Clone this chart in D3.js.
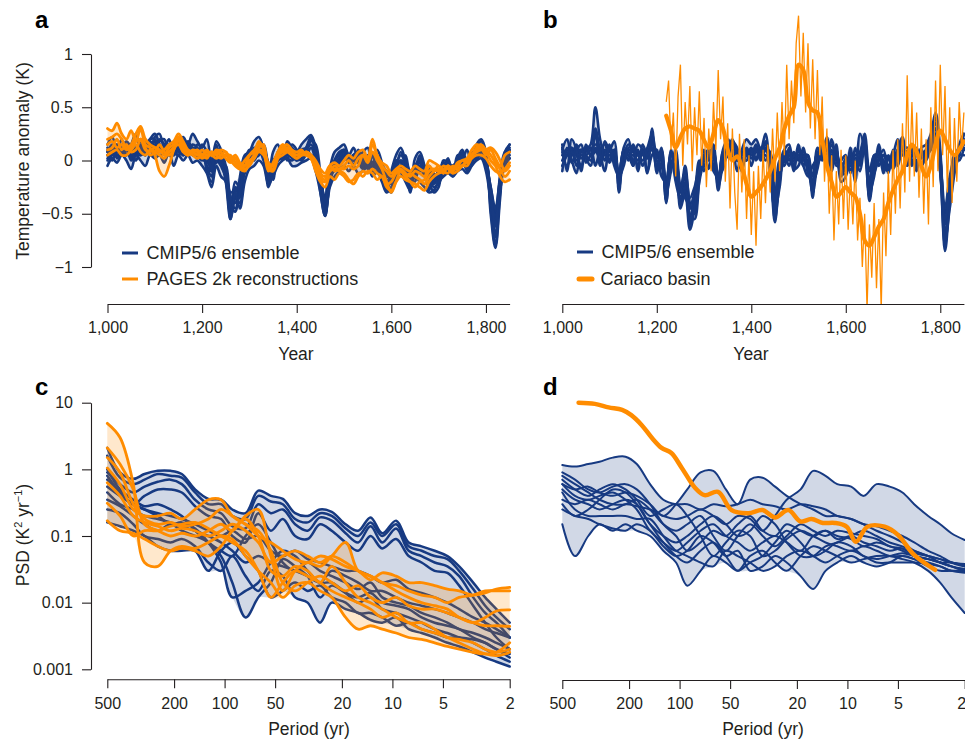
<!DOCTYPE html>
<html><head><meta charset="utf-8">
<script src="https://cdn.jsdelivr.net/npm/d3@7"></script>
<style>
body{margin:0;background:#fff;}
svg{display:block;}
</style></head><body>
<svg id="chart" width="965" height="741"></svg>
<script>
// ---------------- DATA ----------------
const yearTicks = [1000, 1200, 1400, 1600, 1800];
const tempTicks = [-1, -0.5, 0, 0.5, 1];
const psdTicks = [0.001, 0.01, 0.1, 1, 10];
const psdTickLabels = ["0.001", "0.01", "0.1", "1", "10"];
const periodTicks = [500, 200, 100, 50, 20, 10, 5, 2];

const yearsA = [1000,1010,1020,1030,1040,1050,1060,1070,1080,1090,1100,1110,1120,1130,1140,1150,1160,1170,1180,1190,
1200,1210,1220,1230,1240,1250,1260,1270,1280,1290,1300,1310,1320,1330,1340,1350,1360,1370,1380,1390,
1400,1410,1420,1430,1440,1450,1460,1470,1480,1490,1500,1510,1520,1530,1540,1550,1560,1570,1580,1590,
1600,1610,1620,1630,1640,1650,1660,1670,1680,1690,1700,1710,1720,1730,1740,1750,1760,1770,1780,1790,
1800,1810,1820,1830,1840,1850];

// Panel a: CMIP5/6 ensemble members (K)
const cmipA1 = [.05,.1,.15,.05,.12,0,.08,.18,.12,.2, .25,.15,.05,.15,.1,.05,.2,.12,.05,.15, .1,-.05,-.15,.1,.05,-.15,-.5,-.35,-.3,-.05, .05,.1,.15,.02,-.2,-.05,.05,.1,.15,.08, 0,.1,.12,.2,.1,-.25,-.5,-.2,0,.05, .1,.02,.05,.08,-.05,.05,-.1,0,-.12,-.2, -.28,-.05,.05,-.02,-.2,-.05,0,-.12,-.15,-.25, -.2,0,-.02,-.1,0,.05,-.05,.02,.1,.15, .02,-.4,-.7,-.25,.05,.12];
const cmipA2 = [.1,.02,.08,.12,.15,.08,.05,.1,.05,.1, .12,.2,.15,.1,.05,.12,.08,.05,.1,.05, 0,.05,-.05,-.02,0,-.08,-.45,-.25,-.35,-.1, -.02,.02,.05,.1,-.05,-.1,0,.02,.05,.1, .05,0,.05,.05,0,-.15,-.45,-.1,-.1,-.05, 0,.05,0,-.02,-.08,.02,-.02,-.05,-.15,-.1, -.15,-.1,-.05,-.1,-.15,-.12,-.1,-.05,-.1,-.2, -.1,-.1,-.05,-.05,-.05,-.02,-.08,0,.02,.05, -.05,-.25,-.5,-.15,0,.02];
const cmipA3 = [.12,.08,.05,.1,.1,.02,.12,.08,.05,.18, .1,.05,.08,.15,.05,.1,.05,.12,.08,.05, .08,-.05,-.1,.02,-.05,-.05,-.35,-.4,-.2,-.1, .02,0,.08,.05,-.08,0,.05,.08,.02,0, .05,.08,.1,.05,.02,-.18,-.35,-.1,-.05,-.02, .05,-.02,.02,0,.02,-.05,-.02,-.05,-.08,-.15, -.15,0,-.02,-.1,-.12,-.15,-.08,-.05,-.1,-.15, -.15,-.08,-.1,-.05,-.02,-.05,0,-.02,.08,.05, 0,-.35,-.6,-.25,0,.08];
const cmipA4 = [.02,.05,.12,.05,.15,.1,.08,.05,.12,.12, .18,.1,.15,.12,.15,.08,.15,.1,.12,.08, .05,.05,-.05,.05,0,-.12,-.5,-.2,-.25,-.05, 0,.08,.12,.08,-.15,-.02,.05,.02,.1,.05, .02,.05,.1,.15,.05,-.22,-.45,-.18,-.08,0, .08,0,.05,.05,0,-.02,-.05,-.05,-.08,-.18, -.22,-.05,0,-.05,-.18,-.12,-.08,-.12,-.1,-.22, -.15,-.05,-.05,-.1,0,0,-.08,.02,.05,.12, .02,-.3,-.6,-.2,.02,.08];
const cmipA5 = [.05,0,.1,.08,.1,.05,.12,.1,.15,.15, .15,.1,.12,.05,.12,.15,.1,.05,.15,.12, .05,.02,-.1,.08,.05,-.1,-.4,-.3,-.2,-.12, .05,.05,.1,0,-.12,-.1,0,.05,.08,.02, .02,.08,.05,.12,0,-.2,-.5,-.15,-.05,.02, .02,0,.05,0,0,.02,-.08,-.02,-.1,-.12, -.18,-.08,0,-.08,-.12,-.08,-.02,-.1,-.15,-.18, -.12,-.02,-.05,-.05,-.02,0,-.02,0,.05,.1, 0,-.28,-.55,-.22,.05,.1];
const cmipA6 = [.08,.1,.05,.05,.12,.02,.08,.15,.08,.12, .1,.15,.08,.1,.08,.05,.12,.15,.05,.1, .02,-.02,-.02,0,.05,-.08,-.3,-.28,-.3,-.05, 0,.05,.08,.1,-.02,-.08,.02,.05,.1,.05, 0,.02,.08,.05,.02,-.15,-.4,-.12,-.05,-.05, .05,.02,0,.05,-.05,0,-.05,-.05,-.05,-.1, -.2,-.08,-.05,-.02,-.1,-.1,-.05,-.08,-.1,-.2, -.1,-.05,-.08,-.05,-.05,.02,-.05,.02,.05,.08, -.02,-.25,-.45,-.18,0,.05];
const cmipA7 = [0,.08,.15,.1,.05,.08,.1,.05,.1,.2, .2,.12,.1,.08,.15,.12,.05,.1,.12,.1, .1,-.1,-.2,.12,0,-.2,-.55,-.35,-.4,-.08, 0,.12,.08,.05,-.25,-.1,.05,.05,.12,.1, .05,.05,.12,.22,.08,-.3,-.52,-.2,-.05,.02, .08,0,.05,.08,-.05,.05,-.12,-.02,-.15,-.25, -.3,-.08,.08,-.05,-.25,-.1,.05,-.1,-.2,-.3, -.25,-.02,-.05,-.12,.02,.1,-.02,.05,.12,.18, .05,-.45,-.8,-.3,.05,.15];
const cmipA8 = [.15,.22,.1,.2,.05,.15,.25,.1,.18,.08, .22,.25,.12,.2,.08,.18,.22,.15,.25,.18, .12,.2,-.02,.18,.1,-.05,-.42,-.48,-.15,.05, .08,.18,.22,.1,-.18,.08,.15,.02,.18,.12, .08,.15,.2,.24,.12,-.18,-.48,-.08,.08,.12, .15,.05,.12,.02,.08,.12,-.05,.1,-.02,-.28, -.1,.05,.12,-.02,-.3,.02,.08,-.05,-.28,-.12, -.22,-.08,.02,-.15,.05,.02,.1,-.05,.15,.2, .08,-.5,-.82,-.35,.08,.15];
const cmipA9 = [-.05,.02,-.02,.05,0,-.08,.05,0,-.05,.05, .02,.05,-.02,.08,-.05,.05,0,.05,-.02,0, -.05,-.12,-.25,-.05,-.15,-.2,-.55,-.3,-.45,-.2, -.08,-.05,0,-.05,-.22,-.15,-.05,0,.02,-.05, -.05,-.02,0,.02,-.1,-.3,-.52,-.25,-.15,-.1, -.05,-.1,-.05,-.12,-.1,-.05,-.15,-.1,-.2,-.3, -.25,-.15,-.12,-.2,-.28,-.15,-.2,-.25,-.3,-.28, -.2,-.15,-.12,-.15,-.1,-.08,-.12,-.05,0,.02, -.1,-.38,-.72,-.28,-.05,.02];
const cmipA10 = [.08,.15,.02,.1,.18,.12,0,.12,.2,.1, .05,.18,.2,.05,.1,.2,.05,.18,.1,.02, .15,.08,-.08,.15,-.05,-.15,-.35,-.45,-.3,0, .1,.02,.12,.15,-.05,-.18,.08,.12,0,.15, .1,0,.08,.18,.15,-.12,-.38,-.2,0,.08, .1,.05,-.05,.1,.02,-.08,.05,-.08,-.05,-.12, -.18,-.02,-.08,.05,-.15,-.2,.02,-.15,-.05,-.18, -.1,-.12,0,-.08,-.05,.08,-.1,.08,.05,.15, -.05,-.32,-.62,-.15,.08,.1];

// Panel a: PAGES 2k reconstructions (K)
const pages1 = [.3,.28,.35,.25,.2,.28,.18,.3,.15,.12, .05,-.1,-.15,-.05,.1,.22,.15,.05,.08,.05, .1,.05,.08,.05,.02,.05,0,-.05,-.08,-.05, .05,.1,.15,.12,-.05,-.08,.05,.1,.12,.08, .05,.08,.05,.02,-.1,-.2,-.25,-.15,-.18,-.12, -.15,-.2,-.18,-.12,-.15,-.1,-.12,-.18,-.15,-.25, -.28,-.2,-.15,-.18,-.2,-.22,-.25,-.28,-.2,-.15, -.12,-.1,-.05,-.08,-.05,0,-.02,.05,.1,.12, .08,0,-.05,-.15,-.2,-.18];
const pages2 = [.2,.22,.25,.2,.12,.15,.25,.32,.2,.15, .12,.08,.1,.15,.18,.25,.18,.1,.08,.05, .05,.08,.05,.1,.08,.02,-.02,.02,-.05,0, .05,.08,.18,.1,-.1,-.02,.08,.15,.1,.05, .05,.05,.08,.05,-.05,-.15,-.18,-.05,-.02,-.05, 0,.05,.02,.08,.1,.02,.2,.05,-.02,-.05, -.12,-.08,-.05,-.08,-.1,-.05,-.08,-.1,0,-.02, -.05,-.08,-.05,-.08,-.02,0,.02,.1,.15,.12, .05,.1,.02,-.05,.05,.08];
const pages3 = [.15,.18,.12,.15,.1,.12,.18,.2,.12,.05, .08,.15,.08,.05,.1,.18,.12,.08,.05,.02, .05,.1,.05,.08,.05,.05,.05,-.02,-.08,-.1, -.02,.05,.12,.15,-.08,-.1,.02,.12,.15,.1, .08,.1,.05,.05,-.02,-.12,-.15,-.1,-.05,-.08, -.05,0,-.05,.02,.05,0,.15,.05,-.05,-.1, -.15,-.1,-.08,-.12,-.15,-.1,-.12,-.15,-.05,-.1, -.08,-.12,-.05,-.1,-.05,-.05,0,.05,.12,.15, .1,.05,-.02,-.08,-.15,-.1];
const pages4 = [.1,.12,.2,.1,.15,.08,.1,.2,.1,.08, .12,.1,.05,.12,.15,.2,.1,.05,.08,.1, .05,.02,.08,.05,.1,.08,0,.05,-.02,-.05, 0,.02,.1,.08,-.02,-.05,.05,.08,.1,.05, .02,.05,.08,.05,0,-.08,-.12,-.05,-.1,-.08, -.08,-.05,-.08,-.05,.05,-.02,.08,0,-.08,-.2, -.3,-.2,-.1,-.15,-.2,-.25,-.2,-.18,-.1,-.08, -.1,-.05,-.08,-.12,-.1,-.05,-.05,.02,.05,.05, .02,-.05,-.1,-.12,-.08,-.02];
const pages5 = [.05,.08,.1,.05,.05,.1,.15,.08,.05,.1, .08,.05,.02,.08,.12,.15,.08,.05,.1,.08, .02,.05,.05,.02,.05,.08,.02,.02,-.05,-.08, -.05,.02,.08,.05,-.05,-.05,.02,.05,.08,.05, .02,.05,.05,.02,-.08,-.18,-.2,-.1,-.08,-.1, -.12,-.18,-.22,-.15,-.1,-.12,-.08,-.12,-.15,-.22, -.2,-.12,-.1,-.15,-.12,-.15,-.18,-.22,-.15,-.1, -.05,-.1,-.12,-.05,-.08,-.05,0,.05,.08,.1, .1,.12,.08,0,-.1,-.05];

// Panel b: CMIP5/6 ensemble, Cariaco region (K)
const cmipB1 = [.1,.2,.05,.15,.02,.08,.12,-.05,.1,.15, 0,.1,-.25,.05,.15,.1,-.05,.08,.02,.2, -.05,.05,-.35,0,-.1,-.4,-.2,-.6,-.3,-.1, .05,0,.1,-.15,.02,.1,.2,.05,-.05,.1, .05,.15,.02,.18,-.05,-.5,-.1,.02,.1,-.05, .08,.02,-.08,-.25,.05,0,.15,-.05,.1,-.15, -.05,.05,-.1,.05,.2,-.3,-.05,.1,-.05,-.1, .05,.05,.15,0,.1,-.05,.05,.1,.2,.35, .05,-.7,-.3,-.05,.1,.2];
const cmipB2 = [.05,.1,.12,.05,-.05,.1,.15,.5,.2,.05, .08,0,-.1,.1,0,.15,.05,.1,-.1,.05, .1,-.15,-.2,.05,.02,-.3,-.15,-.45,-.4,-.05, 0,.05,-.05,-.2,.05,.15,.05,0,.08,.05, .12,0,.1,0,.05,-.45,-.1,.08,0,.05, .05,-.05,-.15,-.05,.02,.05,.05,.15,.02,-.05, -.1,0,.05,.08,.25,-.1,.05,-.05,.05,.02, -.08,.05,.2,-.05,.05,.1,-.05,.05,.15,.25, -.1,-.5,-.2,0,.05,.05];
const cmipB3 = [-.05,.05,.1,-.05,.08,.12,.05,.08,.1,0, .12,.05,-.15,.1,.05,-.05,.08,.05,.12,.25, .05,.02,-.2,.08,-.15,-.3,-.05,-.4,-.5,-.2, 0,.08,.05,-.25,-.05,.05,.12,.08,.02,0, .1,.02,.12,.1,0,-.3,-.05,.05,-.05,.08, 0,.05,.05,-.3,-.05,.08,.05,.2,0,-.1, .02,-.1,0,-.1,.15,-.35,-.1,0,.05,-.05, .05,.2,.05,.05,-.02,.1,.05,.1,.2,.4, -.05,-.8,-.35,-.1,.05,.25];
const cmipB4 = [.08,-.05,.05,.1,.15,-.02,.05,.1,0,.08, .05,.1,-.2,.02,.08,0,.1,-.05,.05,.1, .02,.1,-.3,-.05,.05,-.35,-.25,-.55,-.35,-.15, .02,.05,.02,-.28,0,.05,.15,.1,0,.12, .05,.1,.05,.05,-.05,-.55,-.2,.05,.05,.02, .05,.05,-.02,-.2,0,.15,.1,0,.08,-.12, -.12,.05,-.08,.02,.1,-.25,.05,.05,-.08,.02, 0,.1,.1,.08,0,.05,.1,0,.15,.3, .02,-.6,-.25,-.02,.12,.1];
const cmipB5 = [.12,.05,.08,0,.05,.05,.1,.15,.12,.05, .05,.02,-.18,.05,.05,.05,0,.1,.08,.15, .08,0,-.25,.05,0,-.25,-.1,-.35,-.25,-.05, .05,.1,.05,-.2,.08,.12,.1,0,.05,.08, .02,.08,.08,.12,.02,-.4,-.05,.1,.02,0, .1,0,0,-.15,.08,.02,.1,.05,.05,-.05, 0,-.05,.02,0,.15,-.2,0,.05,0,-.05, .02,.08,.12,.02,.05,0,.02,.05,.1,.25, 0,-.45,-.15,.02,.08,.15];
const cmipB6 = [0,.08,-.02,.08,.1,.05,0,.12,.05,.1, -.02,.08,-.12,.08,.1,.08,.05,0,.1,.12, -.08,.05,-.38,-.02,-.08,-.45,-.3,-.65,-.45,-.12, -.05,.02,.08,-.22,.05,.08,.18,.12,-.02,.05, .08,.12,.08,.15,-.08,-.58,-.15,0,.08,.05, .02,.08,-.05,-.3,.08,.1,.12,-.02,.05,-.1, -.08,-.02,-.12,.05,.15,-.38,-.08,.08,-.02,-.08, .08,.02,.15,.05,.08,-.02,.08,.02,.18,.3, -.08,-.85,-.4,-.08,.12,.18];
const cmipB7 = [.15,-.1,.2,.1,-.1,.15,.05,.25,-.05,.18, .1,.18,-.3,.12,.2,-.05,.15,.1,-.12,.3, -.12,.12,-.4,.1,-.2,-.35,-.28,-.5,-.55,-.18, .1,-.08,.15,-.2,.1,.2,.12,-.1,.1,.2, .15,.2,.1,.25,-.12,-.45,-.25,.1,.15,-.1, .15,-.05,.05,-.35,.12,.05,.22,-.1,.15,-.2, -.15,.12,-.2,.25,.1,-.3,-.15,.15,-.12,.05, -.05,.1,.22,-.05,.15,-.1,.12,.15,.25,.45, .1,-.75,-.45,-.12,.15,.25];
const cmipB8 = [-.1,.12,0,-.12,.1,.02,-.05,.3,.08,-.1, .15,-.05,-.15,-.05,.12,.12,-.1,.15,.05,.12, 0,-.05,-.3,-.1,.1,-.25,-.35,-.42,-.3,0, -.1,.12,-.1,-.15,-.08,.1,.15,.05,-.1,.1, -.05,.1,0,.1,.08,-.5,0,-.05,.12,-.08, -.05,.12,-.12,-.2,-.08,.15,-.05,.1,-.05,0, .05,-.12,.12,-.05,.2,-.2,-.12,.02,.1,-.12, .1,-.05,.1,.12,-.05,.12,-.05,.05,.12,.25, -.12,-.55,-.3,.05,0,.12];

// Panel b: Cariaco basin record (K)
const cariacoYears = [1220,1225,1230,1235,1240,1245,1250,1255,1260,1265,1270,1275,1280,1285,1290,1295,1300,1305,1310,1315,
1320,1325,1330,1335,1340,1345,1350,1355,1360,1365,1370,1375,1380,1385,1390,1395,1400,1405,1410,1415,
1420,1425,1430,1435,1440,1445,1450,1455,1460,1465,1470,1475,1480,1485,1490,1495,1500,1505,1510,1515,
1520,1525,1530,1535,1540,1545,1550,1555,1560,1565,1570,1575,1580,1585,1590,1595,1600,1605,1610,1615,
1620,1625,1630,1635,1640,1645,1650,1655,1660,1665,1670,1675,1680,1685,1690,1695,1700,1705,1710,1715,
1720,1725,1730,1735,1740,1745,1750,1755,1760,1765,1770,1775,1780,1785,1790,1795,1800,1805,1810,1815,
1820,1825,1830,1835,1840,1845,1850];
const cariacoRaw = [.55,.75,.1,.45,-.15,.6,.9,-.05,.55,.15, .7,-.1,.5,.05,.65,-.05,.4,-.25,.3,-.1,
.55,.1,.85,.2,.6,-.2,.35,-.45,.3,-.3, -.65,.25,-.3,.2,-.55,.05,-.7,-.1,-.8,-.05,
-.55,.1,-.4,.15,-.3,.3,-.2,.45,-.1,.55, .05,.9,.2,.75,.35,1.1,1.36,.6,1.2,.45,
1.1,.3,.95,.2,.85,.05,.6,-.2,.3,-.5, .05,-.75,-.1,-.6,.1,-.55,.05,-.65,-.1,-.6,
0,-.75,-.35,-1.0,-.5,-1.4,-.6,-1.1,-.4,-1.2, -.55,-1.4,-.3,-.9,-.1,-.7,.1,-.5,.2,-.45,
.35,-.3,.8,-.2,.55,-.15,.45,-.35,.3,-.5, .2,-.6,.5,-.25,.75,-.1,.9,.05,.7,-.3,
.5,-.4,.4,-.2,.55,.1,.45];
const cariacoSmoothYears = [1220,1230,1240,1250,1260,1270,1280,1290,1300,1310,1320,1330,1340,1350,1360,1370,1380,1390,1400,1410,
1420,1430,1440,1450,1460,1470,1480,1490,1500,1510,1520,1530,1540,1550,1560,1570,1580,1590,1600,1610,
1620,1630,1640,1650,1660,1670,1680,1690,1700,1710,1720,1730,1740,1750,1760,1770,1780,1790,1800,1810,
1820,1830,1840,1850];
const cariacoSmooth = [.42,.28,.12,.22,.3,.32,.3,.28,.19,.12, .25,.38,.3,.1,0,.04,-.06,-.22,-.34,-.3,
-.25,-.18,-.1,.02,.12,.3,.42,.5,.9,.85, .55,.47,.45,.2,-.05,-.2,-.34,-.3,-.25,-.3,
-.34,-.5,-.75,-.8,-.72,-.62,-.55,-.4,-.28,-.18, -.1,.05,.15,.08,-.05,-.15,-.05,.15,.28,.2,
.1,.05,.1,.18];

// Panels c, d: spectral periods (yr) and PSD (K^2 yr^-1)
const periods = [500,420,350,300,250,210,180,150,125,105,90,75,63,53,45,38,32,27,23,19,16,13.5,11.5,9.5,8,6.7,5.6,4.7,4,3.3,2.8,2.4,2];

const psdCmipC1 = [2.1,0.9,0.72,0.85,0.95,0.95,0.85,0.5,0.36,0.35, 0.25,0.22,0.48,0.4,0.36,0.22,0.2,0.25,0.23,0.15, 0.12,0.19,0.11,0.17,0.08,0.07,0.06,0.05,0.035,0.02, 0.012,0.008,0.005];
const psdCmipC2 = [1.6,0.75,0.6,0.7,0.85,0.8,0.75,0.45,0.3,0.3, 0.2,0.18,0.4,0.33,0.3,0.18,0.16,0.22,0.2,0.13, 0.1,0.16,0.1,0.15,0.07,0.06,0.05,0.045,0.03,0.016, 0.009,0.006,0.004];
const psdCmipC3 = [0.9,0.6,0.45,0.55,0.65,0.7,0.6,0.35,0.25,0.22, 0.14,0.13,0.3,0.22,0.25,0.15,0.12,0.19,0.17,0.11, 0.08,0.14,0.08,0.13,0.06,0.05,0.04,0.035,0.025,0.012, 0.007,0.005,0.003];
const psdCmipC4 = [0.7,0.45,0.3,0.4,0.5,0.5,0.45,0.28,0.2,0.18, 0.1,0.08,0.22,0.12,0.18,0.1,0.09,0.15,0.12,0.08, 0.06,0.1,0.065,0.09,0.05,0.04,0.03,0.028,0.018,0.009, 0.005,0.003,0.002];
const psdCmipC5 = [0.55,0.4,0.3,0.25,0.22,0.2,0.18,0.15,0.12,0.1, 0.12,0.09,0.1,0.06,0.05,0.06,0.045,0.04,0.035,0.03, 0.03,0.025,0.02,0.022,0.016,0.014,0.012,0.01,0.008,0.006, 0.005,0.004,0.003];
const psdCmipC6 = [0.35,0.28,0.2,0.15,0.12,0.15,0.12,0.1,0.08,0.05, 0.02,0.006,0.012,0.02,0.045,0.035,0.025,0.012,0.018,0.014, 0.012,0.014,0.01,0.009,0.008,0.006,0.005,0.0045,0.004,0.003, 0.0025,0.002,0.0015];
const psdCmipC7 = [0.25,0.22,0.15,0.1,0.09,0.08,0.09,0.07,0.04,0.03, 0.05,0.025,0.015,0.03,0.025,0.012,0.01,0.005,0.01,0.008, 0.007,0.0055,0.005,0.006,0.004,0.0035,0.003,0.0025,0.0022,0.0018, 0.0015,0.0013,0.0011];
const psdCmipC8 = [1.0,0.5,0.35,0.28,0.3,0.25,0.2,0.12,0.08,0.06, 0.05,0.1,0.15,0.08,0.04,0.03,0.04,0.03,0.025,0.02, 0.016,0.02,0.012,0.01,0.009,0.007,0.006,0.005,0.004,0.0035, 0.003,0.0025,0.002];
const psdCmipC9 = [0.16,0.14,0.12,0.1,0.07,0.06,0.06,0.06,0.03,0.06, 0.08,0.05,0.03,0.012,0.015,0.02,0.015,0.018,0.012,0.01, 0.007,0.007,0.006,0.0045,0.005,0.004,0.0035,0.003,0.003,0.0028, 0.0025,0.002,0.0017];
const psdCmipC10 = [0.45,0.3,0.25,0.2,0.18,0.16,0.14,0.12,0.1,0.08, 0.06,0.04,0.05,0.04,0.035,0.03,0.025,0.02,0.03,0.025, 0.02,0.015,0.015,0.012,0.01,0.009,0.008,0.007,0.006,0.005, 0.004,0.0035,0.003];
const psdCmipC11 = [0.8,0.45,0.3,0.25,0.2,0.15,0.16,0.13,0.08,0.04, 0.012,0.015,0.02,0.04,0.06,0.05,0.03,0.02,0.02,0.014, 0.01,0.012,0.008,0.007,0.006,0.005,0.004,0.0035,0.003,0.0025, 0.002,0.0016,0.0013];

const psdPages1 = [4.9,3.0,0.6,0.04,0.035,0.06,0.07,0.065,0.08,0.1, 0.09,0.05,0.03,0.02,0.012,0.018,0.02,0.015,0.012,0.006, 0.004,0.0045,0.004,0.0035,0.003,0.0028,0.0025,0.0022,0.002,0.0018, 0.0017,0.0018,0.0025];
const psdPages2 = [2.1,1.2,0.5,0.15,0.12,0.1,0.11,0.1,0.12,0.15, 0.12,0.2,0.25,0.05,0.015,0.03,0.04,0.035,0.05,0.08, 0.03,0.025,0.02,0.015,0.012,0.01,0.009,0.008,0.006,0.005, 0.0045,0.0045,0.0044];
const psdPages3 = [1.5,0.9,0.3,0.18,0.15,0.16,0.14,0.15,0.18,0.25, 0.2,0.15,0.1,0.08,0.06,0.045,0.04,0.05,0.045,0.035, 0.03,0.022,0.028,0.025,0.02,0.02,0.018,0.016,0.015,0.013, 0.014,0.016,0.017];
const psdPages4 = [1.05,0.6,0.25,0.2,0.2,0.22,0.18,0.25,0.35,0.35, 0.2,0.15,0.12,0.06,0.02,0.015,0.02,0.025,0.02,0.015, 0.018,0.012,0.01,0.012,0.009,0.008,0.008,0.007,0.006,0.005, 0.006,0.0075,0.0078];
const psdPages5 = [0.63,0.4,0.2,0.16,0.14,0.12,0.13,0.12,0.1,0.12, 0.15,0.12,0.08,0.04,0.05,0.06,0.05,0.04,0.05,0.04, 0.03,0.025,0.02,0.018,0.015,0.013,0.012,0.01,0.012,0.013, 0.015,0.015,0.015];
const psdPages6 = [0.31,0.2,0.1,0.12,0.12,0.14,0.15,0.16,0.13,0.1, 0.08,0.06,0.03,0.012,0.02,0.03,0.025,0.02,0.015,0.012, 0.01,0.008,0.006,0.007,0.005,0.005,0.004,0.003,0.0028,0.0025, 0.002,0.0018,0.002];
const psdPages7 = [0.17,0.12,0.11,0.09,0.07,0.06,0.065,0.06,0.05,0.07, 0.12,0.18,0.1,0.03,0.025,0.035,0.03,0.02,0.035,0.02, 0.012,0.01,0.008,0.006,0.005,0.004,0.0035,0.003,0.0025,0.002, 0.0017,0.0016,0.0018];

const psdCmipD1 = [1.16,1.1,1.2,1.3,1.5,1.55,1.2,0.6,0.35,0.3, 0.3,0.25,0.3,0.28,0.3,0.35,0.3,0.28,0.25,0.3, 0.28,0.25,0.2,0.18,0.15,0.14,0.12,0.1,0.08,0.06, 0.05,0.04,0.035];
const psdCmipD2 = [0.6,0.5,0.55,0.45,0.4,0.45,0.4,0.3,0.2,0.3, 0.5,0.9,0.95,0.5,0.3,0.7,0.75,0.55,0.4,0.3, 0.25,0.2,0.2,0.18,0.15,0.12,0.1,0.08,0.06,0.05, 0.04,0.035,0.03];
const psdCmipD3 = [0.35,0.3,0.35,0.3,0.25,0.3,0.28,0.25,0.2,0.18, 0.2,0.25,0.2,0.15,0.2,0.18,0.12,0.2,0.35,0.5, 0.95,0.8,0.6,0.55,0.4,0.6,0.55,0.45,0.3,0.2, 0.15,0.11,0.087];
const psdCmipD4 = [0.9,0.7,0.5,0.45,0.55,0.6,0.5,0.3,0.15,0.1, 0.06,0.08,0.12,0.1,0.15,0.2,0.12,0.1,0.15,0.12, 0.1,0.12,0.09,0.1,0.08,0.07,0.06,0.065,0.05,0.045, 0.04,0.04,0.035];
const psdCmipD5 = [0.7,0.5,0.4,0.5,0.6,0.5,0.35,0.2,0.25,0.3, 0.2,0.1,0.05,0.08,0.12,0.1,0.05,0.06,0.09,0.12, 0.1,0.08,0.07,0.06,0.07,0.06,0.05,0.05,0.045,0.04, 0.035,0.03,0.03];
const psdCmipD6 = [0.3,0.2,0.25,0.35,0.5,0.45,0.3,0.15,0.1,0.08, 0.1,0.15,0.2,0.15,0.1,0.12,0.2,0.15,0.08,0.05, 0.05,0.07,0.08,0.1,0.12,0.1,0.08,0.07,0.06,0.05, 0.045,0.04,0.038];
const psdCmipD7 = [0.15,0.05,0.1,0.15,0.12,0.15,0.12,0.1,0.06,0.04, 0.018,0.03,0.05,0.04,0.03,0.05,0.06,0.04,0.03,0.05, 0.07,0.06,0.05,0.04,0.045,0.05,0.05,0.045,0.04,0.03, 0.02,0.012,0.007];
const psdCmipD8 = [0.5,0.35,0.3,0.25,0.3,0.35,0.3,0.15,0.08,0.05, 0.04,0.06,0.08,0.05,0.03,0.04,0.05,0.08,0.12,0.08, 0.05,0.06,0.08,0.07,0.05,0.045,0.05,0.055,0.05,0.045, 0.04,0.035,0.03];
const psdCmipD9 = [0.25,0.2,0.18,0.15,0.13,0.12,0.15,0.12,0.07,0.05, 0.06,0.1,0.08,0.05,0.06,0.03,0.035,0.05,0.04,0.025, 0.016,0.03,0.04,0.05,0.04,0.035,0.04,0.05,0.045,0.035, 0.03,0.03,0.03];
const psdCmipD10 = [0.6,0.4,0.35,0.4,0.45,0.35,0.25,0.12,0.08,0.06, 0.08,0.12,0.15,0.1,0.08,0.06,0.08,0.1,0.08,0.06, 0.1,0.12,0.1,0.09,0.07,0.08,0.07,0.06,0.05,0.045, 0.04,0.035,0.032];
const psdCmipD11 = [0.45,0.25,0.2,0.2,0.2,0.2,0.18,0.18,0.1,0.06, 0.05,0.04,0.035,0.06,0.05,0.04,0.03,0.035,0.05,0.06, 0.05,0.04,0.05,0.06,0.05,0.04,0.04,0.04,0.04,0.038, 0.035,0.03,0.028];
const psdCmipD12 = [0.8,0.6,0.45,0.35,0.3,0.3,0.35,0.25,0.15,0.12, 0.15,0.2,0.1,0.06,0.1,0.15,0.1,0.07,0.1,0.15, 0.12,0.1,0.12,0.11,0.1,0.09,0.07,0.065,0.055,0.05, 0.045,0.04,0.036];

const cariacoPeriods = [400,320,265,220,194,168,146,128,112,97,81,71,59,49,39,32,27,22.5,19,16.4,14,11.9,10.1,8.9,7.6,6,5,4,3];
const cariacoPsd = [10,9.6,8.5,7.8,6.5,4.6,2.95,2.1,1.76,1.05,0.53,0.41,0.46,0.245,0.22,0.245,0.19,0.245,0.165,0.18,0.157,0.157,0.138,0.082,0.138,0.138,0.104,0.052,0.031];

// ---------------- DRAWING ----------------
const BLUE = "#173a82", ORANGE = "#ff8c00", INK = "#231f20";
const FONT = '"Liberation Sans", Arial, Helvetica, sans-serif';
const svg = d3.select("#chart").attr("font-family", FONT);

const xA = d3.scaleLinear().domain([1000, 1850]).range([107.5, 509.6]);
const xB = d3.scaleLinear().domain([1000, 1850]).range([562.3, 963.9]);
const yT = d3.scaleLinear().domain([-1, 1]).range([267, 54]);
const xC = d3.scaleLog().domain([500, 2]).range([107.3, 509.7]);
const xD = d3.scaleLog().domain([500, 2]).range([562.3, 964.7]);
const yP = d3.scaleLog().domain([0.001, 10]).range([669.3, 402.7]);

const curve = d3.curveCatmullRom.alpha(0.5);

function envelope(series) {
  return series[0].map((_, i) => {
    const v = series.map(s => s[i]);
    return [d3.min(v), d3.max(v)];
  });
}

function bundle(g, xs, xS, yS, series, color, width, fillOpacity) {
  const area = d3.area().x((d, i) => xS(xs[i])).y0(d => yS(d[0])).y1(d => yS(d[1])).curve(curve);
  const line = d3.line().x((d, i) => xS(xs[i])).y(d => yS(d)).curve(curve);
  if (fillOpacity > 0) {
    g.append("path").datum(envelope(series)).attr("d", area)
      .attr("fill", color).attr("fill-opacity", fillOpacity).attr("stroke", "none");
  }
  g.selectAll(null).data(series).enter().append("path")
    .attr("d", line).attr("fill", "none").attr("stroke", color)
    .attr("stroke-width", width).attr("stroke-linejoin", "round").attr("stroke-linecap", "round");
}

function styleAxis(g) {
  g.select(".domain").attr("stroke", INK).attr("stroke-width", 1.1);
  g.selectAll(".tick line").attr("stroke", INK).attr("stroke-width", 1.1);
  g.selectAll(".tick text").attr("fill", INK).attr("font-size", 16).attr("font-family", FONT);
}

// ---- Panel a ----
const gA = svg.append("g");
bundle(gA, yearsA, xA, yT, [cmipA1, cmipA2, cmipA3, cmipA4, cmipA5, cmipA6, cmipA7, cmipA8, cmipA9, cmipA10], BLUE, 2.6, 0.2);
bundle(gA, yearsA, xA, yT, [pages1, pages2, pages3, pages4, pages5], ORANGE, 2.8, 0.2);

svg.append("g").attr("transform", "translate(91,0)")
  .call(d3.axisLeft(yT).tickValues(tempTicks).tickFormat(d3.format("~g")).tickSize(9).tickPadding(9).tickSizeOuter(0))
  .call(styleAxis);
svg.append("g").attr("transform", "translate(0,304)")
  .call(d3.axisBottom(xA).tickValues(yearTicks).tickFormat(d3.format(",")).tickSize(9).tickPadding(9).tickSizeOuter(0))
  .call(styleAxis);

// ---- Panel b ----
svg.append("clipPath").attr("id", "clipB").append("rect").attr("x", 540).attr("y", 0).attr("width", 430).attr("height", 304);
const gB = svg.append("g").attr("clip-path", "url(#clipB)");
bundle(gB, yearsA, xB, yT, [cmipB1, cmipB2, cmipB3, cmipB4, cmipB5, cmipB6, cmipB7, cmipB8], BLUE, 2.6, 0.2);
gB.append("path").datum(cariacoRaw)
  .attr("d", d3.line().x((d, i) => xB(cariacoYears[i])).y(d => yT(d)))
  .attr("fill", "none").attr("stroke", ORANGE).attr("stroke-width", 1.3);
gB.append("path").datum(cariacoSmooth)
  .attr("d", d3.line().x((d, i) => xB(cariacoSmoothYears[i])).y(d => yT(d)).curve(curve))
  .attr("fill", "none").attr("stroke", ORANGE).attr("stroke-width", 4.2)
  .attr("stroke-linejoin", "round").attr("stroke-linecap", "round");
svg.append("g").attr("transform", "translate(0,304)")
  .call(d3.axisBottom(xB).tickValues(yearTicks).tickFormat(d3.format(",")).tickSize(9).tickPadding(9).tickSizeOuter(0))
  .call(styleAxis);

// ---- Panel c ----
const gC = svg.append("g");
bundle(gC, periods, xC, yP, [psdCmipC1, psdCmipC2, psdCmipC3, psdCmipC4, psdCmipC5, psdCmipC6, psdCmipC7, psdCmipC8, psdCmipC9, psdCmipC10, psdCmipC11], BLUE, 2.5, 0.2);
bundle(gC, periods, xC, yP, [psdPages1, psdPages2, psdPages3, psdPages4, psdPages5, psdPages6, psdPages7], ORANGE, 2.8, 0.2);
svg.append("g").attr("transform", "translate(91,0)")
  .call(d3.axisLeft(yP).tickValues(psdTicks).tickFormat((d, i) => psdTickLabels[i]).tickSize(9).tickPadding(9).tickSizeOuter(0))
  .call(styleAxis);
svg.append("g").attr("transform", "translate(0,679.3)")
  .call(d3.axisBottom(xC).tickValues(periodTicks).tickFormat(d3.format("d")).tickSize(9).tickPadding(9).tickSizeOuter(0))
  .call(styleAxis);

// ---- Panel d ----
const gD = svg.append("g");
bundle(gD, periods, xD, yP, [psdCmipD1, psdCmipD2, psdCmipD3, psdCmipD4, psdCmipD5, psdCmipD6, psdCmipD7, psdCmipD8, psdCmipD9, psdCmipD10, psdCmipD11, psdCmipD12], BLUE, 2, 0.2);
gD.append("path").datum(cariacoPsd)
  .attr("d", d3.line().x((d, i) => xD(cariacoPeriods[i])).y(d => yP(d)).curve(curve))
  .attr("fill", "none").attr("stroke", ORANGE).attr("stroke-width", 4.5)
  .attr("stroke-linejoin", "round").attr("stroke-linecap", "round");
const axD = svg.append("g").attr("transform", "translate(0,680)")
  .call(d3.axisBottom(xD).tickValues(periodTicks).tickFormat(d3.format("d")).tickSize(9).tickPadding(9).tickSizeOuter(0))
  .call(styleAxis);
// keep the last label ("2") inside the picture edge
axD.selectAll(".tick text").filter(d => d === 2).attr("text-anchor", "end").attr("x", 1);

// ---- Text: panel labels, axis titles ----
const labels = [["a", 35, 28], ["b", 543, 28], ["c", 35, 395], ["d", 543, 395]];
labels.forEach(([t, x, y]) => svg.append("text").attr("x", x).attr("y", y).text(t)
  .attr("font-size", 24).attr("font-weight", "bold").attr("fill", "#000"));

function title(x, y, txt, rot) {
  const t = svg.append("text").attr("text-anchor", "middle").attr("font-size", 17.5).attr("fill", INK);
  if (rot) t.attr("transform", `translate(${x},${y}) rotate(-90)`); else t.attr("x", x).attr("y", y);
  return t.text(txt);
}
title(29, 161, "Temperature anomaly (K)", true);
title(296, 360, "Year");
title(751, 360, "Year");
title(309, 735, "Period (yr)");
title(763, 735, "Period (yr)");

const psdT = svg.append("text").attr("text-anchor", "middle").attr("font-size", 17.5).attr("fill", INK)
  .attr("transform", "translate(29,535) rotate(-90)");
psdT.append("tspan").text("PSD (K");
psdT.append("tspan").attr("font-size", 11).attr("dy", -7).text("2");
psdT.append("tspan").attr("dy", 7).text(" yr");
psdT.append("tspan").attr("font-size", 11).attr("dy", -7).text("\u22121");
psdT.append("tspan").attr("dy", 7).text(")");

// ---- Legends ----
function legendItem(x1, x2, y, color, w, label) {
  svg.append("line").attr("x1", x1).attr("x2", x2).attr("y1", y).attr("y2", y)
    .attr("stroke", color).attr("stroke-width", w).attr("stroke-linecap", w > 3.5 ? "round" : "butt");
  svg.append("text").attr("x", x2 + 8.5).attr("y", y + 6).attr("font-size", 18).attr("fill", INK).text(label);
}
legendItem(122, 138, 253, BLUE, 3, "CMIP5/6 ensemble");
legendItem(122, 138, 279, ORANGE, 3, "PAGES 2k reconstructions");
legendItem(577, 593, 252, BLUE, 3, "CMIP5/6 ensemble");
legendItem(579, 592, 279, ORANGE, 5, "Cariaco basin");
</script></body></html>
